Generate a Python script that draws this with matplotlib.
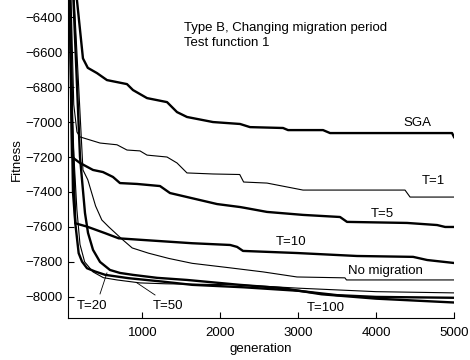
import matplotlib
matplotlib.use("Agg")
import matplotlib.pyplot as plt

plt.rcParams['font.family'] = ['Liberation Sans', 'DejaVu Sans']

# Best fitness per generation for each migration setting
sga_gen = [60, 161, 238, 300, 418, 546, 803, 880, 1060, 1317, 1445, 1573, 1907, 2254, 2382, 2806, 2870, 3319, 3409, 4975, 5000]
sga_fit = [-5600, -6303, -6636, -6690, -6720, -6760, -6783, -6817, -6863, -6886, -6943, -6971, -7000, -7011, -7029, -7034, -7046, -7046, -7063, -7063, -7086]

t1_gen = [45, 120, 161, 200, 457, 675, 803, 970, 1060, 1317, 1445, 1573, 1907, 2250, 2300, 2600, 3062, 4371, 4436, 5000]
t1_fit = [-5600, -6900, -7057, -7085, -7120, -7130, -7160, -7165, -7189, -7200, -7234, -7291, -7297, -7300, -7343, -7349, -7389, -7389, -7429, -7429]

t5_gen = [45, 97, 200, 367, 495, 623, 713, 932, 1227, 1355, 1959, 2254, 2318, 2600, 3062, 3537, 3627, 4397, 4783, 4886, 5000]
t5_fit = [-5600, -7200, -7234, -7274, -7286, -7314, -7349, -7354, -7366, -7406, -7469, -7486, -7491, -7514, -7531, -7543, -7571, -7577, -7589, -7600, -7600]

t10_gen = [45, 110, 140, 290, 525, 697, 996, 1638, 2127, 2216, 2292, 2985, 3755, 4475, 4655, 5000]
t10_fit = [-5600, -7400, -7579, -7598, -7636, -7665, -7674, -7693, -7703, -7714, -7737, -7749, -7766, -7771, -7789, -7806]

nomig_gen = [45, 238, 300, 400, 480, 570, 740, 870, 1080, 1340, 1640, 2130, 2550, 2985, 3600, 3620, 5000]
nomig_fit = [-5600, -7274, -7330, -7480, -7560, -7600, -7670, -7720, -7750, -7780, -7808, -7834, -7857, -7886, -7891, -7903, -7903]

t20_gen = [42, 100, 140, 183, 226, 290, 396, 525, 825, 1250, 1640, 2300, 3000, 3500, 4000, 5000]
t20_fit = [-5600, -7000, -7580, -7750, -7798, -7836, -7855, -7874, -7893, -7912, -7931, -7945, -7965, -7990, -8000, -8005]

t50_gen = [42, 110, 160, 200, 260, 367, 500, 675, 970, 1300, 2250, 3000, 4000, 5000]
t50_fit = [-5600, -7100, -7500, -7700, -7800, -7857, -7890, -7903, -7920, -7925, -7931, -7950, -7970, -7977]

t100_gen = [50, 200, 264, 303, 367, 457, 585, 713, 880, 1190, 1573, 2250, 2800, 3300, 4000, 5000]
t100_fit = [-5600, -7200, -7520, -7634, -7731, -7800, -7846, -7863, -7874, -7891, -7903, -7931, -7950, -7985, -8010, -8032]

x_ticks = [1000, 2000, 3000, 4000, 5000]
y_ticks = [-8000, -7800, -7600, -7400, -7200, -7000, -6800, -6600, -6400]

fig = plt.figure(figsize=(4.7, 3.6), dpi=100)
ax = fig.add_axes([0.144, 0.116, 0.822, 0.884])

thick = 1.7
thin = 0.8
ax.plot(sga_gen, sga_fit, color='black', lw=thick)
ax.plot(t1_gen, t1_fit, color='black', lw=thin)
ax.plot(t5_gen, t5_fit, color='black', lw=thick)
ax.plot(t10_gen, t10_fit, color='black', lw=thick)
ax.plot(nomig_gen, nomig_fit, color='black', lw=thin)
ax.plot(t20_gen, t20_fit, color='black', lw=thick)
ax.plot(t50_gen, t50_fit, color='black', lw=thin)
ax.plot(t100_gen, t100_fit, color='black', lw=thick)

ax.set_xlim(42, 5000)
ax.set_ylim(-8122, -6302)
ax.set_xticks(x_ticks)
ax.set_yticks(y_ticks)
ax.tick_params(direction='in', length=4, labelsize=9.5, width=0.8)
ax.tick_params(axis='x', pad=6)
ax.spines['top'].set_visible(False)
ax.spines['right'].set_visible(False)
for s in ('left', 'bottom'):
    ax.spines[s].set_linewidth(0.8)

ax.set_xlabel('generation', fontsize=9.5, labelpad=3)
ax.set_ylabel('Fitness', fontsize=9.5, labelpad=2)

fs = 9.5
ax.text(1540, -6503, 'Type B, Changing migration period\nTest function 1',
        fontsize=fs, ha='left', va='center', linespacing=1.35)
ax.text(4526, -7006, 'SGA', fontsize=fs, ha='center', va='center')
ax.text(4732, -7337, 'T=1', fontsize=fs, ha='center', va='center')
ax.text(4077, -7526, 'T=5', fontsize=fs, ha='center', va='center')
ax.text(2909, -7686, 'T=10', fontsize=fs, ha='center', va='center')
ax.text(4115, -7851, 'No migration', fontsize=fs, ha='center', va='center')
ax.text(3358, -8063, 'T=100', fontsize=fs, ha='center', va='center')
ax.text(354, -8051, 'T=20', fontsize=fs, ha='center', va='center')
ax.text(1330, -8051, 'T=50', fontsize=fs, ha='center', va='center')

# leader lines for the crowded labels
ax.plot([457, 546], [-7983, -7863], color='black', lw=0.6)
ax.plot([1163, 932], [-7989, -7920], color='black', lw=0.6)

fig.savefig('out.png', dpi=100)
